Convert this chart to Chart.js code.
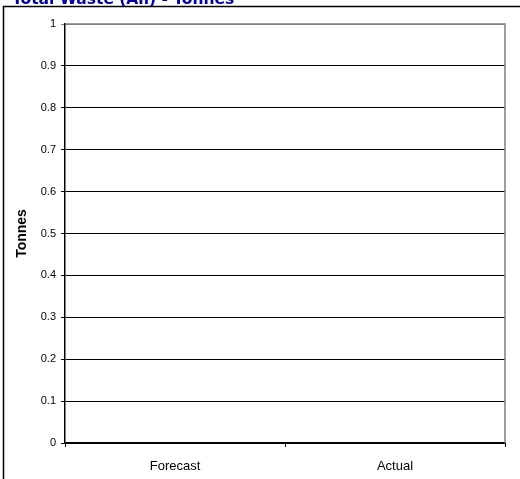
<!DOCTYPE html>
<html>
<head>
<meta charset="utf-8">
<script src="https://cdn.jsdelivr.net/npm/chart.js@4/dist/chart.umd.min.js"></script>
<style>
  html, body { margin: 0; padding: 0; background: #ffffff; }
  #wrap { position: relative; width: 520px; height: 479px; }
</style>
</head>
<body>
<div id="wrap"><canvas id="chart" width="520" height="479"></canvas></div>
<script>
// Categories and values for the waste chart
const categories = ['Forecast', 'Actual'];
const tonnesValues = [0, 0];
const yTickValues = [0, 0.1, 0.2, 0.3, 0.4, 0.5, 0.6, 0.7, 0.8, 0.9, 1];
const chartTitle = 'Total Waste (All) - Tonnes';
const yAxisTitle = 'Tonnes';

// Outer frame, heading, and the plot-area box
const framePlugin = {
  id: 'frame',
  beforeDraw(chart) {
    const ctx = chart.ctx;
    ctx.save();
    ctx.fillStyle = '#ffffff';
    ctx.fillRect(0, 0, chart.width, chart.height);
    // outer frame (runs past the canvas on the right and bottom)
    ctx.strokeStyle = '#000000';
    ctx.lineWidth = 1.5;
    ctx.strokeRect(3.5, 6.5, chart.width + 20, chart.height + 20);
    // heading
    ctx.fillStyle = '#000099';
    ctx.font = 'bold 15.5px "DejaVu Sans", Verdana, sans-serif';
    ctx.textBaseline = 'alphabetic';
    ctx.textAlign = 'left';
    ctx.fillText(chartTitle, 12, 4);
    ctx.restore();
  },
  afterDatasetsDraw(chart) {
    const a = chart.chartArea;
    const ctx = chart.ctx;
    ctx.save();
    ctx.strokeStyle = '#808080';
    ctx.lineWidth = 1.5;
    ctx.beginPath();
    ctx.moveTo(a.left, a.top);
    ctx.lineTo(a.right, a.top);
    ctx.lineTo(a.right, a.bottom);
    ctx.stroke();
    ctx.restore();
  }
};

new Chart(document.getElementById('chart'), {
  type: 'bar',
  data: {
    labels: categories,
    datasets: [{
      label: yAxisTitle,
      data: tonnesValues,
      backgroundColor: '#9999ff',
      borderColor: '#000000',
      borderWidth: 0
    }]
  },
  options: {
    responsive: false,
    animation: false,
    layout: { padding: { top: 24, right: 15, bottom: 0, left: 0 } },
    plugins: {
      legend: { display: false },
      title: { display: false },
      tooltip: { enabled: false }
    },
    scales: {
      x: {
        afterFit(scale) { scale.height = 36; },
        grid: {
          offset: true,
          drawOnChartArea: false,
          drawTicks: true,
          tickLength: 4,
          color: '#000000',
          lineWidth: 1
        },
        border: { display: true, color: '#000000', width: 1.5 },
        ticks: {
          color: '#000000',
          padding: 12,
          font: { family: '"Liberation Sans", Arial, sans-serif', size: 13 }
        }
      },
      y: {
        min: 0,
        max: 1,
        afterFit(scale) { scale.width = 65; },
        afterBuildTicks(scale) { scale.ticks = yTickValues.map(v => ({ value: v })); },
        grid: {
          color: ctx => (ctx.tick && ctx.tick.value === 1 ? '#808080' : '#000000'),
          lineWidth: 1,
          drawTicks: true,
          tickLength: 4
        },
        border: { display: true, color: '#000000', width: 1.5 },
        ticks: {
          color: '#000000',
          padding: 5,
          font: { family: '"Liberation Sans", Arial, sans-serif', size: 11 },
          callback: v => String(Math.round(v * 10) / 10)
        },
        title: {
          display: true,
          text: yAxisTitle,
          color: '#000000',
          padding: { top: 14, bottom: 0 },
          font: { family: '"Liberation Sans", Arial, sans-serif', size: 14, weight: 'bold' }
        }
      }
    }
  },
  plugins: [framePlugin]
});
</script>
</body>
</html>
